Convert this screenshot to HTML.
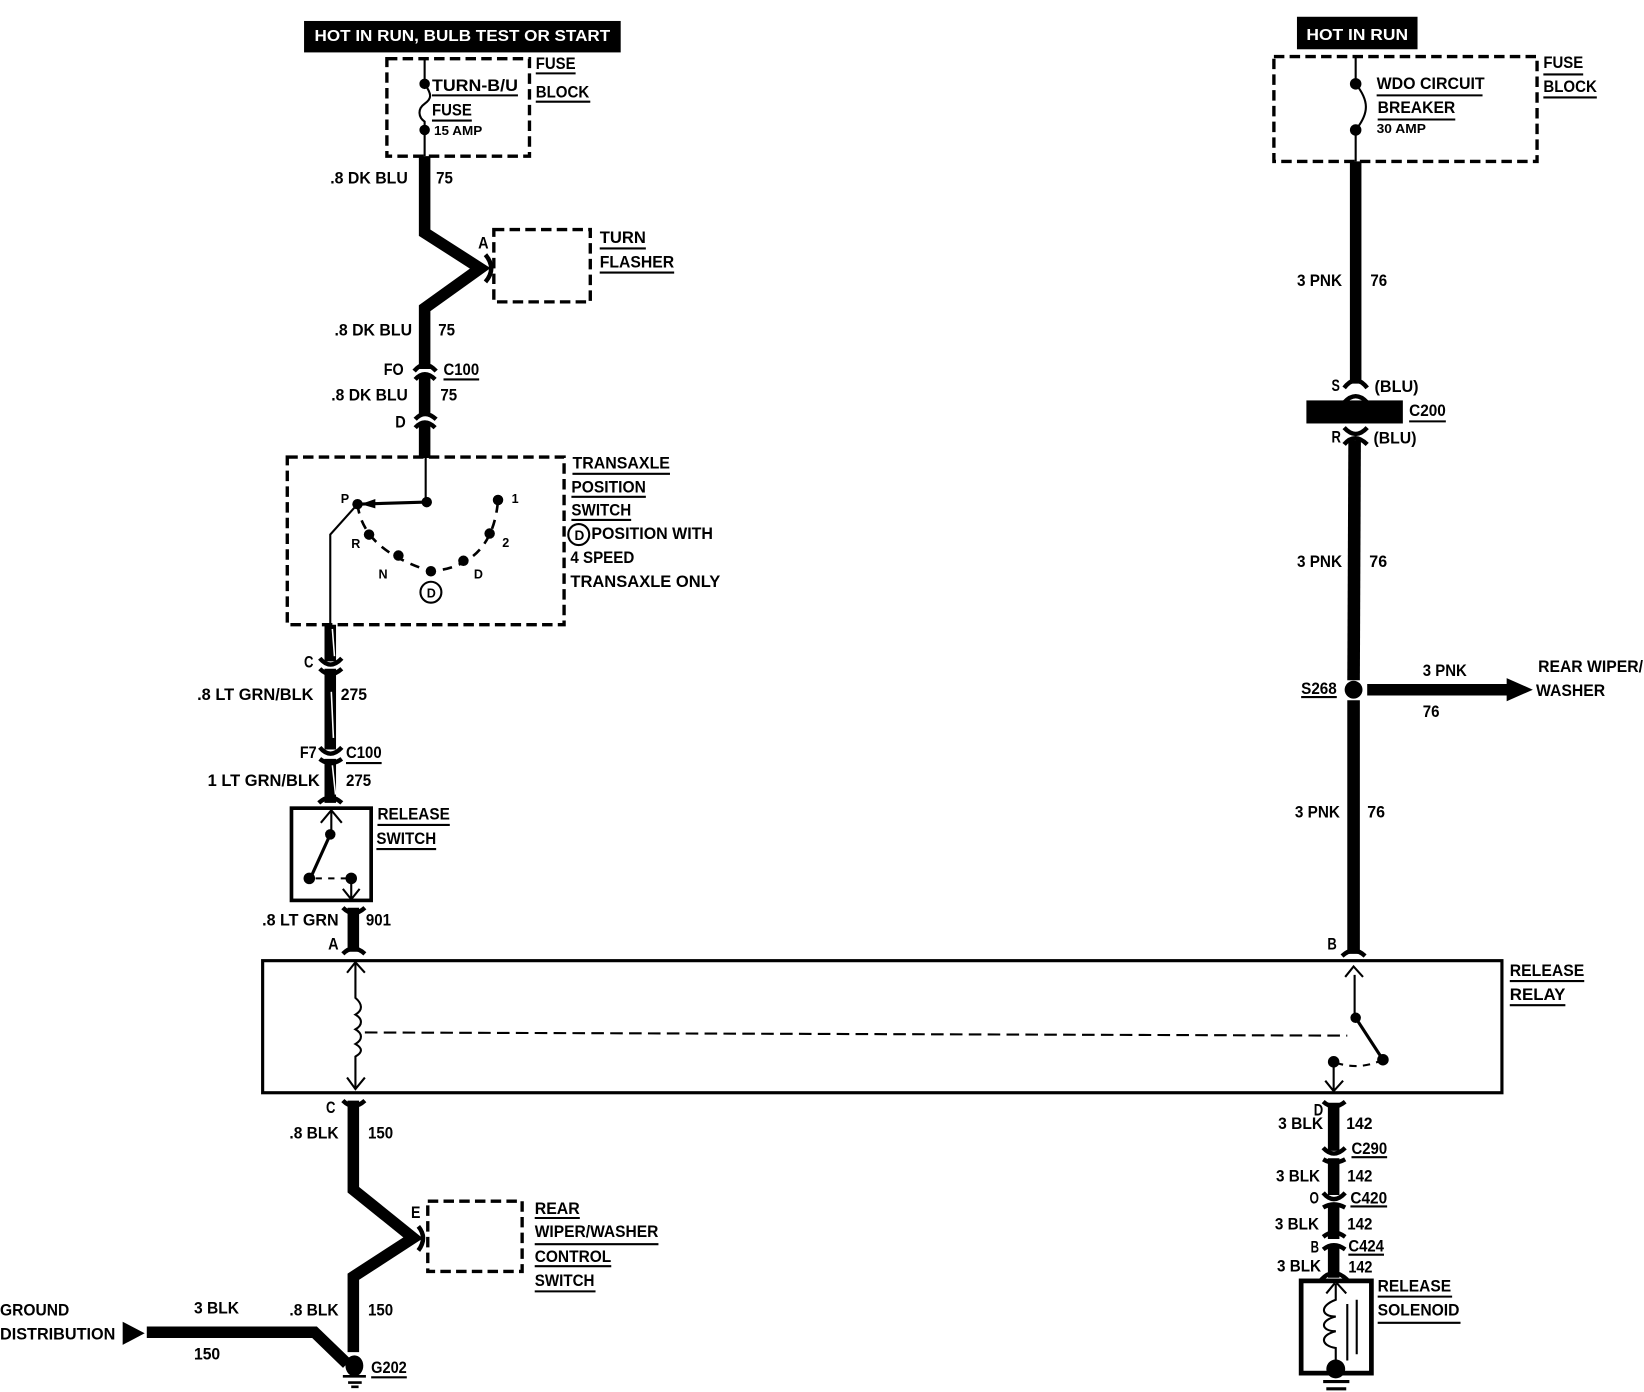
<!DOCTYPE html>
<html><head><meta charset="utf-8"><style>
html,body{margin:0;padding:0;background:#fff}
svg{display:block}
text{font-family:"Liberation Sans",sans-serif;font-weight:bold;font-size:16px;fill:#000}
.w{fill:#fff;font-size:15px}
.s{font-size:12px}
.m{font-size:13px}
.t{fill:none;stroke:#000;stroke-width:2}
.d{fill:none;stroke:#000;stroke-width:3.2;stroke-dasharray:10 5}
.h{fill:none;stroke:#000;stroke-width:11;stroke-linejoin:miter}
.c{fill:none;stroke:#000;stroke-width:4.2}
</style></head><body>
<svg xmlns="http://www.w3.org/2000/svg" width="1644" height="1392" viewBox="0 0 1568 1328" preserveAspectRatio="none">
<rect width="1568" height="1328" fill="#fff"/>

<!-- headers -->
<rect x="290" y="20" width="302" height="30" fill="#000"/>
<text class="w" x="300" y="39" textLength="282" lengthAdjust="spacingAndGlyphs">HOT IN RUN, BULB TEST OR START</text>
<rect x="1237" y="16" width="115" height="31" fill="#000"/>
<text class="w" x="1246" y="38" textLength="97" lengthAdjust="spacingAndGlyphs">HOT IN RUN</text>

<!-- dashed boxes -->
<rect class="d" x="369" y="56" width="136" height="93"/>
<rect class="d" x="471" y="219" width="92" height="69"/>
<rect class="d" x="274" y="436" width="264" height="160"/>
<rect class="d" x="408" y="1146" width="90" height="67"/>
<rect class="d" x="1215" y="54" width="251" height="100"/>

<!-- solid boxes -->
<rect x="278" y="771" width="76" height="88" fill="none" stroke="#000" stroke-width="3.5"/>
<rect x="250.500" y="916.500" width="1182" height="126" fill="none" stroke="#000" stroke-width="3"/>
<rect x="1241" y="1222" width="67" height="88" fill="none" stroke="#000" stroke-width="4.500"/>

<!-- heavy wires -->
<polyline class="h" points="405,149 405,222 458,256 405,294 405,352"/>
<line class="h" x1="405" y1="358" x2="405" y2="396"/>
<line class="h" x1="405" y1="404" x2="405" y2="437"/>
<line class="h" x1="315" y1="596" x2="315" y2="631"/>
<line class="h" x1="315" y1="638" x2="315" y2="715"/>
<line class="h" x1="315" y1="724" x2="315" y2="766"/>
<line class="h" x1="337" y1="866" x2="337" y2="908"/>
<polyline class="h" points="337,1050 337,1135 394,1181 337,1218 337,1290"/>
<polyline class="h" points="140,1271 300,1271 331,1301"/>
<line class="h" x1="1293" y1="154" x2="1293" y2="366"/>
<line x1="1292" y1="420" x2="1291" y2="649" stroke="#000" stroke-width="12"/>
<line x1="1291" y1="668" x2="1291" y2="910" stroke="#000" stroke-width="12"/>
<line class="h" x1="1304" y1="658" x2="1442" y2="658"/>
<line class="h" x1="1272" y1="1052" x2="1272" y2="1098"/>
<line class="h" x1="1272" y1="1105" x2="1272" y2="1140"/>
<line class="h" x1="1272" y1="1149" x2="1272" y2="1182"/>
<line class="h" x1="1272" y1="1190" x2="1272" y2="1219"/>

<!-- tracer streaks -->
<path d="M317 600L319 626M316 660L318 704M317 730L320 758" fill="none" stroke="#fff" stroke-width="1.500"/>

<!-- connector flares -->
<path class="c" d="M395 354Q405 342 416 354M396 362Q405 352 415 362M396 400Q405 390 416 400M396 408Q405 398 415 408"/>
<path class="c" d="M305 628Q315 640 326 628M305 638Q315 648 326 638M305 713Q315 725 326 713M305 724Q315 732 326 724M304 766Q315 756 326 766"/>
<path class="c" d="M327 866Q337 876 348 866M327 910Q337 900 348 910"/>
<path class="c" d="M327 1050Q337 1060 348 1050"/>
<path class="c" d="M1282 370Q1293 356 1304 370M1282 384Q1293 372 1304 384M1282 408Q1293 420 1304 408M1282 424Q1292 412 1304 424"/>
<path class="c" d="M1280 912Q1291 902 1302 912"/>
<path class="c" d="M1262 1051Q1272 1060 1283 1051M1262 1095Q1272 1106 1283 1095M1262 1106Q1272 1112 1283 1106M1262 1138Q1272 1150 1283 1138M1262 1152Q1272 1146 1283 1152M1262 1180Q1272 1172 1283 1180M1262 1192Q1272 1184 1283 1192M1260 1221Q1272 1208 1285 1221"/>
<path class="c" d="M463 243Q474 256 463 269"/>
<path class="c" d="M399 1170Q408 1181 399 1193"/>

<!-- C200 bar -->
<rect x="1246" y="382" width="92" height="22" fill="#000"/>

<!-- S268 splice and arrowheads -->
<circle cx="1291" cy="658" r="8.500"/>
<polygon points="1437,647 1462,658 1437,669"/>
<polygon points="117,1261 138,1272 117,1283"/>

<!-- fuse block internals -->
<path class="t" d="M405 56V80C412 90 412 94 405 99C398 104 399 112 405 116V149"/>
<circle cx="405" cy="80" r="5"/><circle cx="405" cy="124" r="5"/>
<path class="t" d="M1293 54V80C1306 96 1306 108 1293 124V154"/>
<circle cx="1293" cy="80" r="5.500"/><circle cx="1293" cy="124" r="5.500"/>

<!-- transaxle switch -->
<path class="t" d="M406 436V479M341 481L315 510V596"/>
<line x1="407" y1="479" x2="341" y2="481" stroke="#000" stroke-width="3"/>
<polygon points="344,481 358,476 358,485"/>
<circle cx="407" cy="479" r="5"/><circle cx="341" cy="481" r="5"/>
<path d="M341 481Q346 525 411 545Q470 540 475 477" fill="none" stroke="#000" stroke-width="2.500" stroke-dasharray="9 7"/>
<circle cx="352" cy="510" r="5"/><circle cx="380" cy="530" r="5"/><circle cx="411" cy="545" r="5"/><circle cx="442" cy="535" r="5"/><circle cx="467" cy="509" r="5"/><circle cx="475" cy="477" r="5"/>
<circle cx="411" cy="565" r="10" fill="none" stroke="#000" stroke-width="2"/>
<circle cx="552" cy="510" r="10" fill="none" stroke="#000" stroke-width="2"/>

<!-- release switch internals -->
<path class="t" d="M316 773V795M306 785L316 773L326 785"/>
<line x1="315" y1="796" x2="296" y2="838" stroke="#000" stroke-width="3"/>
<circle cx="315" cy="796" r="5"/><circle cx="295" cy="838" r="5.500"/><circle cx="335" cy="838" r="5.500"/>
<path class="t" d="M301 838H330" stroke-dasharray="6 6"/>
<path class="t" d="M335 838V858M327 848L335 858L343 848"/>

<!-- relay internals -->
<path class="t" d="M339 918V952C346 958 346 964 339 968C346 972 346 978 339 982C346 986 346 992 339 996C346 1000 346 1004 339 1008V1038M331 928L339 918L348 928M331 1028L339 1039L348 1028"/>
<path d="M348 985L1285 988" fill="none" stroke="#000" stroke-width="2" stroke-dasharray="12 6"/>
<path class="t" d="M1283 932L1291 922L1300 932M1292 930V971"/>
<line x1="1293" y1="971" x2="1319" y2="1011" stroke="#000" stroke-width="3"/>
<circle cx="1293" cy="971" r="5"/><circle cx="1319" cy="1011" r="5.500"/><circle cx="1272" cy="1013" r="5.500"/>
<path class="t" d="M1319 1011Q1295 1022 1272 1013" stroke-dasharray="7 6"/>
<path class="t" d="M1272 1013V1040M1264 1031L1272 1041L1281 1031"/>

<!-- solenoid internals -->
<path class="t" d="M1265 1234L1274 1223L1284 1234M1274 1225V1240C1258 1246 1260 1256 1274 1256C1258 1260 1260 1270 1274 1270C1258 1274 1260 1284 1274 1286V1308"/>
<path class="t" d="M1285 1244V1298M1294 1240V1292"/>
<circle cx="1274" cy="1306" r="9"/>
<path d="M1262 1318H1287M1265 1325H1284" stroke="#000" stroke-width="3"/>

<!-- ground G202 -->
<ellipse cx="338" cy="1303" rx="8.500" ry="10"/>
<path d="M327 1313H349M332 1319H345M335 1323H342" stroke="#000" stroke-width="2.500"/>

<!-- underlines -->
<path class="t" d="M412 91H494M412 115H450M511 70H549M511 97H563M572 237H616M572 260H643M423 362H457M546 452H639M545 474H616M545 496H602M330 728H364M360 787H429M359 810H416M1440 936H1511M1440 959H1493M510 1162H553M510 1187H628M510 1208H583M510 1232H568M354 1314H388M1313 91H1414M1314 114H1388M1472 71H1510M1472 93H1523M1344 402H1379M1241 665H1275M1289 1104H1323M1288 1151H1323M1286 1197H1320M1314 1237H1385M1314 1262H1393"/>

<!-- labels -->
<g>
<text x="412" y="87" textLength="82" lengthAdjust="spacingAndGlyphs">TURN-B/U</text>
<text x="412" y="110" textLength="38" lengthAdjust="spacingAndGlyphs">FUSE</text>
<text class="s" x="414" y="129" textLength="46" lengthAdjust="spacingAndGlyphs">15 AMP</text>
<text x="511" y="66" textLength="38" lengthAdjust="spacingAndGlyphs">FUSE</text>
<text x="511" y="93" textLength="51" lengthAdjust="spacingAndGlyphs">BLOCK</text>
<text x="572" y="232" textLength="44" lengthAdjust="spacingAndGlyphs">TURN</text>
<text x="572" y="255" textLength="71" lengthAdjust="spacingAndGlyphs">FLASHER</text>
<text x="456" y="237" textLength="10" lengthAdjust="spacingAndGlyphs">A</text>
<text x="315" y="175" textLength="74" lengthAdjust="spacingAndGlyphs">.8 DK BLU</text>
<text x="416" y="175" textLength="16" lengthAdjust="spacingAndGlyphs">75</text>
<text x="319" y="320" textLength="74" lengthAdjust="spacingAndGlyphs">.8 DK BLU</text>
<text x="418" y="320" textLength="16" lengthAdjust="spacingAndGlyphs">75</text>
<text x="366" y="358" textLength="19" lengthAdjust="spacingAndGlyphs">FO</text>
<text x="423" y="358" textLength="34" lengthAdjust="spacingAndGlyphs">C100</text>
<text x="316" y="382" textLength="73" lengthAdjust="spacingAndGlyphs">.8 DK BLU</text>
<text x="420" y="382" textLength="16" lengthAdjust="spacingAndGlyphs">75</text>
<text x="377" y="408" textLength="10" lengthAdjust="spacingAndGlyphs">D</text>
<text x="546" y="447" textLength="93" lengthAdjust="spacingAndGlyphs">TRANSAXLE</text>
<text x="545" y="470" textLength="71" lengthAdjust="spacingAndGlyphs">POSITION</text>
<text x="545" y="492" textLength="57" lengthAdjust="spacingAndGlyphs">SWITCH</text>
<text x="564" y="514" textLength="116" lengthAdjust="spacingAndGlyphs">POSITION WITH</text>
<text x="544" y="537" textLength="61" lengthAdjust="spacingAndGlyphs">4 SPEED</text>
<text x="544" y="560" textLength="143" lengthAdjust="spacingAndGlyphs">TRANSAXLE ONLY</text>
<text class="s" x="325" y="480">P</text>
<text class="s" x="335" y="523">R</text>
<text class="s" x="361" y="552">N</text>
<text class="s" x="452" y="552">D</text>
<text class="s" x="479" y="522">2</text>
<text class="s" x="488" y="480">1</text>
<text class="s" x="407" y="570">D</text>
<text class="m" x="548" y="515">D</text>
<text x="290" y="637" textLength="9" lengthAdjust="spacingAndGlyphs">C</text>
<text x="188" y="668" textLength="111" lengthAdjust="spacingAndGlyphs">.8 LT GRN/BLK</text>
<text x="325" y="668" textLength="25" lengthAdjust="spacingAndGlyphs">275</text>
<text x="286" y="723" textLength="16" lengthAdjust="spacingAndGlyphs">F7</text>
<text x="330" y="723" textLength="34" lengthAdjust="spacingAndGlyphs">C100</text>
<text x="198" y="750" textLength="107" lengthAdjust="spacingAndGlyphs">1 LT GRN/BLK</text>
<text x="330" y="750" textLength="24" lengthAdjust="spacingAndGlyphs">275</text>
<text x="360" y="782" textLength="69" lengthAdjust="spacingAndGlyphs">RELEASE</text>
<text x="359" y="805" textLength="57" lengthAdjust="spacingAndGlyphs">SWITCH</text>
<text x="250" y="883" textLength="73" lengthAdjust="spacingAndGlyphs">.8 LT GRN</text>
<text x="349" y="883" textLength="24" lengthAdjust="spacingAndGlyphs">901</text>
<text x="313" y="906" textLength="10" lengthAdjust="spacingAndGlyphs">A</text>
<text x="1440" y="931" textLength="71" lengthAdjust="spacingAndGlyphs">RELEASE</text>
<text x="1440" y="954" textLength="53" lengthAdjust="spacingAndGlyphs">RELAY</text>
<text x="311" y="1062" textLength="9" lengthAdjust="spacingAndGlyphs">C</text>
<text x="276" y="1086" textLength="47" lengthAdjust="spacingAndGlyphs">.8 BLK</text>
<text x="351" y="1086" textLength="24" lengthAdjust="spacingAndGlyphs">150</text>
<text x="276" y="1255" textLength="47" lengthAdjust="spacingAndGlyphs">.8 BLK</text>
<text x="351" y="1255" textLength="24" lengthAdjust="spacingAndGlyphs">150</text>
<text x="392" y="1162" textLength="9" lengthAdjust="spacingAndGlyphs">E</text>
<text x="510" y="1158" textLength="43" lengthAdjust="spacingAndGlyphs">REAR</text>
<text x="510" y="1180" textLength="118" lengthAdjust="spacingAndGlyphs">WIPER/WASHER</text>
<text x="510" y="1204" textLength="73" lengthAdjust="spacingAndGlyphs">CONTROL</text>
<text x="510" y="1227" textLength="57" lengthAdjust="spacingAndGlyphs">SWITCH</text>
<text x="0" y="1255" textLength="66" lengthAdjust="spacingAndGlyphs">GROUND</text>
<text x="0" y="1278" textLength="110" lengthAdjust="spacingAndGlyphs">DISTRIBUTION</text>
<text x="185" y="1253" textLength="43" lengthAdjust="spacingAndGlyphs">3 BLK</text>
<text x="185" y="1297" textLength="25" lengthAdjust="spacingAndGlyphs">150</text>
<text x="354" y="1310" textLength="34" lengthAdjust="spacingAndGlyphs">G202</text>

<text x="1313" y="85" textLength="103" lengthAdjust="spacingAndGlyphs">WDO CIRCUIT</text>
<text x="1314" y="108" textLength="74" lengthAdjust="spacingAndGlyphs">BREAKER</text>
<text class="s" x="1313" y="127" textLength="47" lengthAdjust="spacingAndGlyphs">30 AMP</text>
<text x="1472" y="65" textLength="38" lengthAdjust="spacingAndGlyphs">FUSE</text>
<text x="1472" y="88" textLength="51" lengthAdjust="spacingAndGlyphs">BLOCK</text>
<text x="1237" y="273" textLength="43" lengthAdjust="spacingAndGlyphs">3 PNK</text>
<text x="1307" y="273" textLength="16" lengthAdjust="spacingAndGlyphs">76</text>
<text x="1270" y="373" textLength="8" lengthAdjust="spacingAndGlyphs">S</text>
<text x="1311" y="374" textLength="42" lengthAdjust="spacingAndGlyphs">(BLU)</text>
<text x="1344" y="397" textLength="35" lengthAdjust="spacingAndGlyphs">C200</text>
<text x="1270" y="422" textLength="9" lengthAdjust="spacingAndGlyphs">R</text>
<text x="1310" y="423" textLength="41" lengthAdjust="spacingAndGlyphs">(BLU)</text>
<text x="1237" y="541" textLength="43" lengthAdjust="spacingAndGlyphs">3 PNK</text>
<text x="1306" y="541" textLength="17" lengthAdjust="spacingAndGlyphs">76</text>
<text x="1241" y="662" textLength="34" lengthAdjust="spacingAndGlyphs">S268</text>
<text x="1357" y="645" textLength="42" lengthAdjust="spacingAndGlyphs">3 PNK</text>
<text x="1357" y="684" textLength="16" lengthAdjust="spacingAndGlyphs">76</text>
<text x="1467" y="641" textLength="100" lengthAdjust="spacingAndGlyphs">REAR WIPER/</text>
<text x="1465" y="664" textLength="66" lengthAdjust="spacingAndGlyphs">WASHER</text>
<text x="1235" y="780" textLength="43" lengthAdjust="spacingAndGlyphs">3 PNK</text>
<text x="1304" y="780" textLength="17" lengthAdjust="spacingAndGlyphs">76</text>
<text x="1266" y="906" textLength="9" lengthAdjust="spacingAndGlyphs">B</text>
<text x="1253" y="1064" textLength="9" lengthAdjust="spacingAndGlyphs">D</text>
<text x="1219" y="1077" textLength="43" lengthAdjust="spacingAndGlyphs">3 BLK</text>
<text x="1284" y="1077" textLength="25" lengthAdjust="spacingAndGlyphs">142</text>
<text x="1289" y="1101" textLength="34" lengthAdjust="spacingAndGlyphs">C290</text>
<text x="1217" y="1127" textLength="42" lengthAdjust="spacingAndGlyphs">3 BLK</text>
<text x="1285" y="1127" textLength="24" lengthAdjust="spacingAndGlyphs">142</text>
<text x="1249" y="1148" textLength="9" lengthAdjust="spacingAndGlyphs">O</text>
<text x="1288" y="1148" textLength="35" lengthAdjust="spacingAndGlyphs">C420</text>
<text x="1216" y="1173" textLength="42" lengthAdjust="spacingAndGlyphs">3 BLK</text>
<text x="1285" y="1173" textLength="24" lengthAdjust="spacingAndGlyphs">142</text>
<text x="1250" y="1195" textLength="8" lengthAdjust="spacingAndGlyphs">B</text>
<text x="1286" y="1194" textLength="34" lengthAdjust="spacingAndGlyphs">C424</text>
<text x="1218" y="1213" textLength="42" lengthAdjust="spacingAndGlyphs">3 BLK</text>
<text x="1286" y="1214" textLength="23" lengthAdjust="spacingAndGlyphs">142</text>
<text x="1314" y="1232" textLength="70" lengthAdjust="spacingAndGlyphs">RELEASE</text>
<text x="1314" y="1255" textLength="78" lengthAdjust="spacingAndGlyphs">SOLENOID</text>
</g>
</svg>
</body></html>
